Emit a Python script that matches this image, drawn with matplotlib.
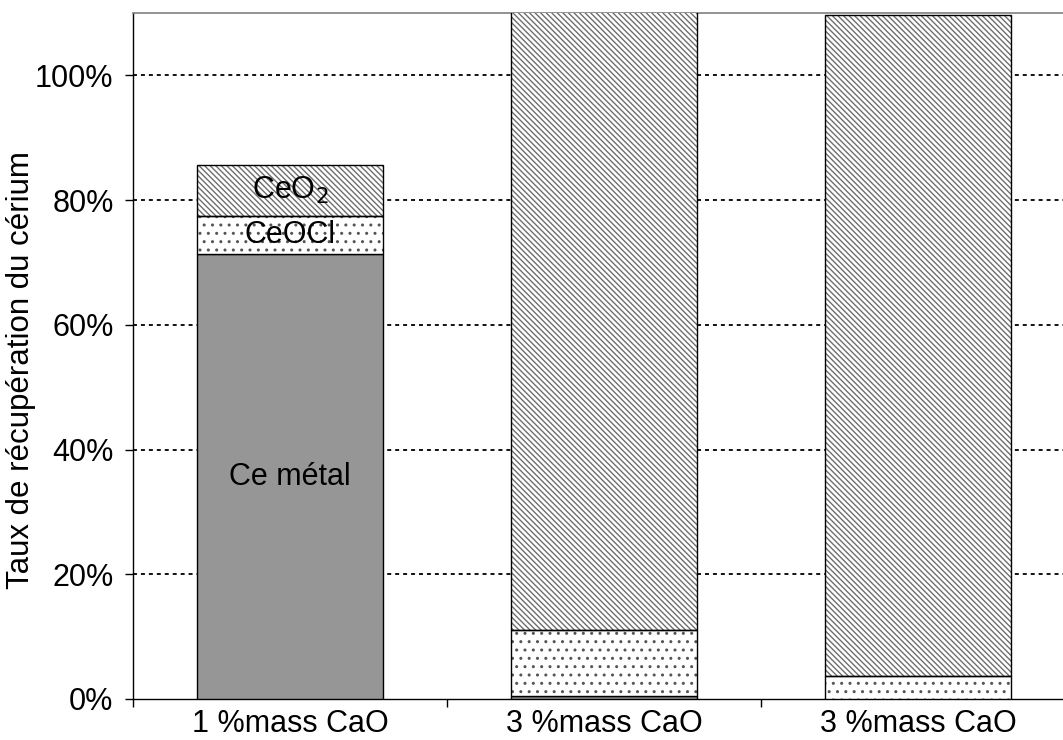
import matplotlib
matplotlib.use("Agg")
import matplotlib.pyplot as plt
import numpy as np
from matplotlib.ticker import FuncFormatter, FixedLocator

plt.rcParams['font.family'] = ['Liberation Sans', 'DejaVu Sans']

categories = ['1 %mass CaO', '3 %mass CaO', '3 %mass CaO']
ce_metal = [71.3, 0.5, 0.0]
ceocl = [6.2, 10.5, 3.7]
ceo2 = [8.2, 99.5, 106.0]
seg_labels = ['Ce métal', 'CeOCl', 'CeO$_2$']
yticks = [0, 20, 40, 60, 80, 100]

fig = plt.figure(figsize=(10.63, 7.40), dpi=100)
ax = fig.add_axes([133/1063, 1-699/740, 942/1063, (699-13)/740])

x = np.arange(len(categories)) + 0.5
w = 0.59
m = np.array(ce_metal)
c = np.array(ceocl)
o = np.array(ceo2)

plt.rcParams['hatch.linewidth'] = 1.0

# metal
ax.bar(x, m, w, color='#969696', edgecolor='black', linewidth=1.0, zorder=3)
# CeOCl dots
ax.bar(x, c, w, bottom=m, color='white', edgecolor='#555555', hatch='..', linewidth=0, zorder=3)
ax.bar(x, c, w, bottom=m, color='none', edgecolor='black', linewidth=1.0, zorder=4)
# CeO2 diagonal hatch
ax.bar(x, o, w, bottom=m + c, color='white', edgecolor='#6e6e6e', hatch='\\\\\\\\\\\\', linewidth=0, zorder=3)
ax.bar(x, o, w, bottom=m + c, color='none', edgecolor='black', linewidth=1.0, zorder=4)

# labels on first bar
fs = 22
ax.text(x[0], m[0] / 2, seg_labels[0], ha='center', va='center', fontsize=fs, zorder=5)
ax.text(x[0], m[0] + c[0] / 2, seg_labels[1], ha='center', va='center', fontsize=fs, zorder=5)
ax.text(x[0], m[0] + c[0] + o[0] / 2, seg_labels[2], ha='center', va='center', fontsize=fs, zorder=5)

ax.set_xlim(0, 3)
ax.set_ylim(0, 110)
ax.set_yticks(yticks)
ax.yaxis.set_major_formatter(FuncFormatter(lambda v, p: f'{v:.0f}%'))
ax.set_xticks(x)
ax.set_xticklabels(categories, fontsize=fs)
ax.xaxis.set_minor_locator(FixedLocator([0, 1, 2, 3]))
ax.tick_params(axis='x', which='major', length=0, pad=7)
ax.tick_params(axis='x', which='minor', length=6, width=1.0, direction='out')
ax.tick_params(axis='y', length=6, width=1.0, direction='out', labelsize=fs, pad=8)
ax.set_ylabel('Taux de récupération du cérium', fontsize=22.5)
ax.yaxis.set_label_coords(-0.103, 0.48)

for yv in yticks[1:]:
    ax.axhline(yv, color='black', linestyle=(0, (2.2, 2.2)), linewidth=1.3, zorder=1)

ax.spines['top'].set_color('#808080')
ax.spines['top'].set_linewidth(1.2)
ax.spines['right'].set_visible(False)
ax.spines['left'].set_linewidth(1.0)
ax.spines['bottom'].set_linewidth(1.0)

fig.savefig('out.png', dpi=100)
